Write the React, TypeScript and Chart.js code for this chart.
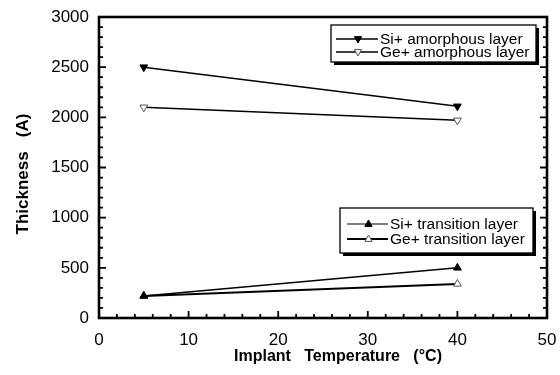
import React, { useEffect, useRef } from "react";
import { Chart, registerables } from "chart.js";

Chart.register(...registerables);

const temperatures = [5, 40];
const siAmorphous = [2500, 2110];
const geAmorphous = [2100, 1970];
const siTransition = [220, 500];
const geTransition = [220, 340];

const xTicksMajor = [0, 10, 20, 30, 40, 50];
const xTitle = "Implant   Temperature   (°C)";
const yTitle = "Thickness   (A)";
const FONT = "'Liberation Sans', Arial, Helvetica, sans-serif";

const toPts = (ys: number[]) => temperatures.map((x, i) => ({ x, y: ys[i] }));

const legendGroups = [
  {
    box: { x: 331, y: 25, w: 205, h: 37 },
    rows: [39, 52],
    line: [336, 378],
    items: [
      { label: "Si+ amorphous layer", fill: "#000", rot: 180, lw: 1.3 },
      { label: "Ge+ amorphous layer", fill: "#fff", rot: 180, lw: 1.3 },
    ],
  },
  {
    box: { x: 340, y: 208, w: 193, h: 45 },
    rows: [224, 239],
    line: [347, 388],
    items: [
      { label: "Si+ transition layer", fill: "#000", rot: 0, lw: 1.2 },
      { label: "Ge+ transition layer", fill: "#fff", rot: 0, lw: 2.2 },
    ],
  },
];

function drawTri(ctx: CanvasRenderingContext2D, x: number, y: number, r: number, rot: number, fill: string) {
  ctx.save();
  ctx.translate(x, y);
  ctx.rotate((rot * Math.PI) / 180);
  ctx.beginPath();
  ctx.moveTo(0, -r);
  ctx.lineTo(r * 0.9, r * 0.6);
  ctx.lineTo(-r * 0.9, r * 0.6);
  ctx.closePath();
  ctx.fillStyle = fill;
  ctx.fill();
  ctx.strokeStyle = fill === "#fff" ? "#555" : "#000";
  ctx.lineWidth = 1;
  ctx.stroke();
  ctx.restore();
}

const framePlugin = {
  id: "frameTicks",
  afterDraw(chart: any) {
    const { ctx, chartArea: a, scales } = chart;
    const xs = scales.x;
    const ys = scales.y;
    ctx.save();
    ctx.strokeStyle = "#000";
    ctx.lineWidth = 1.8;
    for (let v = 0; v <= 50; v += 2) {
      const px = xs.getPixelForValue(v);
      const len = v % 10 === 0 ? 7 : 4;
      ctx.beginPath();
      ctx.moveTo(px, a.bottom);
      ctx.lineTo(px, a.bottom - len);
      ctx.stroke();
    }
    for (let v = 0; v <= 3000; v += 100) {
      const py = ys.getPixelForValue(v);
      const len = v % 500 === 0 ? 7 : 4;
      ctx.beginPath();
      ctx.moveTo(a.left, py);
      ctx.lineTo(a.left + len, py);
      ctx.moveTo(a.right, py);
      ctx.lineTo(a.right - len, py);
      ctx.stroke();
    }
    ctx.lineWidth = 2.6;
    ctx.strokeRect(a.left, a.top, a.right - a.left, a.bottom - a.top);

    // axis titles
    ctx.fillStyle = "#000";
    ctx.textAlign = "center";
    ctx.textBaseline = "middle";
    ctx.font = `bold 16px ${FONT}`;
    ctx.fillText(xTitle, 338, 357);
    ctx.save();
    ctx.translate(23, 174);
    ctx.rotate(-Math.PI / 2);
    ctx.font = `bold 17px ${FONT}`;
    ctx.fillText(yTitle, 0, 0);
    ctx.restore();

    // legends
    for (const g of legendGroups) {
      const b = g.box;
      ctx.fillStyle = "#000";
      ctx.fillRect(b.x + 3, b.y + 3, b.w, b.h);
      ctx.fillStyle = "#fff";
      ctx.fillRect(b.x, b.y, b.w, b.h);
      ctx.lineWidth = 1.3;
      ctx.strokeStyle = "#000";
      ctx.strokeRect(b.x, b.y, b.w, b.h);
      g.items.forEach((it, i) => {
        const ry = g.rows[i];
        const lx0 = g.line[0];
        const lx1 = g.line[1];
        ctx.lineWidth = it.lw;
        ctx.beginPath();
        ctx.moveTo(lx0, ry);
        ctx.lineTo(lx1, ry);
        ctx.stroke();
        drawTri(ctx, (lx0 + lx1) / 2 + 1, ry, 4, it.rot, it.fill);
        ctx.fillStyle = "#000";
        ctx.font = `15.5px ${FONT}`;
        ctx.textBaseline = "middle";
        ctx.textAlign = "left";
        ctx.fillText(it.label, lx1 + 2, ry + 0.5);
      });
    }
    ctx.restore();
  },
};

export default function App() {
  const ref = useRef<HTMLCanvasElement | null>(null);
  useEffect(() => {
    if (!ref.current) return;
    const mk = (ys: number[], fill: string, rot: number, lw: number) => ({
      data: toPts(ys),
      borderColor: "#000",
      borderWidth: lw,
      pointStyle: "triangle",
      pointRotation: rot,
      pointRadius: 4.5,
      pointBackgroundColor: fill,
      pointBorderColor: fill === "#fff" ? "#555" : "#000",
      pointBorderWidth: 1,
      fill: false,
      tension: 0,
    });
    const chart = new Chart(ref.current, {
      type: "line",
      data: {
        datasets: [
          { label: "Si+ amorphous layer", ...mk(siAmorphous, "#000", 180, 1.5) },
          { label: "Ge+ amorphous layer", ...mk(geAmorphous, "#fff", 180, 1.5) },
          { label: "Si+ transition layer", ...mk(siTransition, "#000", 0, 1.5) },
          { label: "Ge+ transition layer", ...mk(geTransition, "#fff", 0, 2) },
        ] as any,
      },
      options: {
        animation: false,
        responsive: false,
        layout: { padding: { top: 17, right: 13, left: 0, bottom: 0 } },
        plugins: { legend: { display: false }, tooltip: { enabled: false } },
        scales: {
          x: {
            type: "linear",
            min: 0,
            max: 50,
            afterFit: (s: any) => {
              s.height = 57;
              s.paddingLeft = 0;
              s.paddingRight = 0;
            },
            afterBuildTicks: (s: any) => {
              s.ticks = xTicksMajor.map((v) => ({ value: v }));
            },
            ticks: { color: "#000", font: { family: FONT, size: 17 }, padding: 12, maxRotation: 0 },
            grid: { display: true, drawOnChartArea: false, drawTicks: false },
            border: { display: false },
          },
          y: {
            type: "linear",
            min: 0,
            max: 3000,
            afterFit: (s: any) => {
              s.width = 99;
              s.paddingTop = 0;
              s.paddingBottom = 0;
            },
            ticks: {
              stepSize: 500,
              color: "#000",
              font: { family: FONT, size: 17 },
              padding: 10,
              callback: (v: any) => String(v),
            },
            grid: { display: true, drawOnChartArea: false, drawTicks: false },
            border: { display: false },
          },
        },
      },
      plugins: [framePlugin],
    } as any);
    return () => chart.destroy();
  }, []);
  return (
    <div style={{ position: "absolute", left: 0, top: 0, width: 560, height: 375, background: "#fff" }}>
      <canvas ref={ref} width={560} height={375} style={{ width: 560, height: 375 }} />
    </div>
  );
}
